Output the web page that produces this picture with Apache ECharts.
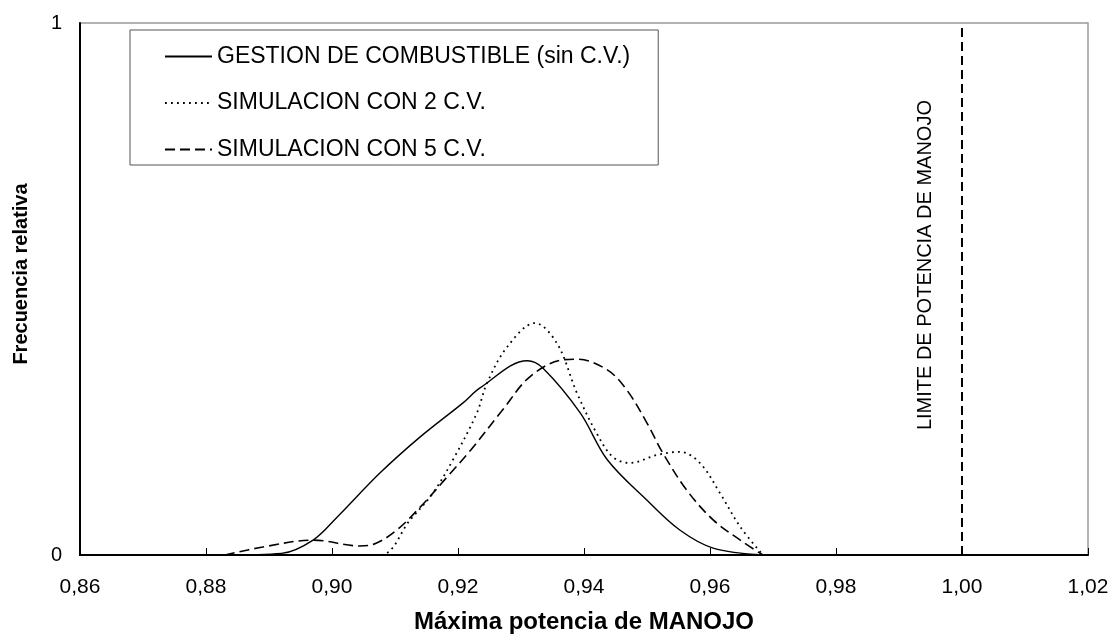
<!DOCTYPE html>
<html>
<head>
<meta charset="utf-8">
<script src="https://cdn.jsdelivr.net/npm/echarts@6/dist/echarts.min.js"></script>
<style>
  html, body { margin: 0; padding: 0; background: #fff; }
  #chart { width: 1112px; height: 635px; }
</style>
</head>
<body>
<div id="chart"></div>
<script>
// curve points: [potencia, frecuencia relativa]
const gestion = [
  [0.883, 0], [0.892, 0.003], [0.897, 0.028], [0.9008, 0.071], [0.9076, 0.154],
  [0.914, 0.222], [0.9208, 0.286], [0.9235, 0.314], [0.931, 0.365], [0.9335, 0.351],
  [0.9394, 0.267], [0.9437, 0.179], [0.950, 0.103], [0.9552, 0.047], [0.9605, 0.013],
  [0.9684, 0]
];
const sim2cv = [
  [0.885, 0], [0.9076, 0], [0.9124, 0.066], [0.916, 0.116], [0.9192, 0.179],
  [0.923, 0.267], [0.9246, 0.323], [0.9278, 0.391], [0.9322, 0.436], [0.9357, 0.398],
  [0.9389, 0.304], [0.942, 0.229], [0.9446, 0.184], [0.9473, 0.173], [0.9516, 0.188],
  [0.9552, 0.194], [0.9584, 0.173], [0.9616, 0.116], [0.9648, 0.053], [0.9684, 0]
];
const sim5cv = [
  [0.883, 0], [0.889, 0.015], [0.897, 0.028], [0.9044, 0.017], [0.907, 0.022],
  [0.9103, 0.047], [0.914, 0.090], [0.9183, 0.147], [0.922, 0.197], [0.9271, 0.273],
  [0.9314, 0.335], [0.9367, 0.367], [0.9389, 0.368], [0.9437, 0.348], [0.9468, 0.310],
  [0.950, 0.248], [0.9525, 0.192], [0.9563, 0.122], [0.9605, 0.066], [0.9648, 0.028],
  [0.9684, 0]
];
const limite = [[1.0, 0], [1.0, 1]];
const limiteBase = [[0.982, 0], [1.006, 0]];
const names = [
  'GESTION DE COMBUSTIBLE (sin C.V.)',
  'SIMULACION CON 2 C.V.',
  'SIMULACION CON 5 C.V.'
];

const font = 'Arial, "Liberation Sans", sans-serif';
const chart = echarts.init(document.getElementById('chart'));

const option = {
  animation: false,
  backgroundColor: '#fff',
  grid: {
    left: 80, right: 24, top: 23, bottom: 80,
    outerBoundsMode: 'none',
    show: true, borderColor: '#999', borderWidth: 1.5
  },
  legend: {
    orient: 'vertical',
    left: 130, top: 30,
    padding: [15, 28, 4, 34],
    itemWidth: 47, itemHeight: 14, itemGap: 23.5,
    borderColor: '#555', borderWidth: 1,
    backgroundColor: '#fff',
    data: names,
    itemStyle: { opacity: 0 },
    textStyle: { fontFamily: font, fontSize: 23, lineHeight: 22, color: '#000' }
  },
  xAxis: {
    type: 'value', min: 0.86, max: 1.02, interval: 0.02,
    name: 'Máxima potencia de MANOJO', nameLocation: 'middle', nameGap: 55,
    nameTextStyle: { fontFamily: font, fontSize: 24, fontWeight: 'bold', color: '#000' },
    axisLine: { lineStyle: { color: '#000', width: 2 } },
    axisTick: { inside: true, length: 7, lineStyle: { color: '#000' } },
    axisLabel: {
      fontFamily: font, fontSize: 21, color: '#000', margin: 22,
      formatter: v => v.toFixed(2).replace('.', ',')
    },
    splitLine: { show: false }
  },
  yAxis: {
    type: 'value', min: 0, max: 1, interval: 1,
    name: 'Frecuencia relativa', nameLocation: 'middle', nameGap: 49,
    nameTextStyle: {
      fontFamily: font, fontSize: 20, fontWeight: 'bold', color: '#000',
      padding: [0, 0, 0, 30]
    },
    axisLine: { show: true, lineStyle: { color: '#000', width: 2 } },
    axisTick: { show: false },
    axisLabel: { fontFamily: font, fontSize: 20, color: '#000', margin: 18 },
    splitLine: { show: false }
  },
  series: [
    {
      name: names[0], type: 'line', data: gestion, smooth: 0.35, symbol: 'none',
      lineStyle: { color: '#000', width: 1.4, type: 'solid' }, itemStyle: { color: '#000' }
    },
    {
      name: names[1], type: 'line', data: sim2cv, smooth: 0.35, symbol: 'none',
      lineStyle: { color: '#000', width: 1.8, type: [1.8, 4.2] }, itemStyle: { color: '#000' }
    },
    {
      name: names[2], type: 'line', data: sim5cv, smooth: 0.35, symbol: 'none',
      lineStyle: { color: '#000', width: 1.6, type: [10, 5] }, itemStyle: { color: '#000' }
    },
    {
      name: 'limite', type: 'line', data: limite, symbol: 'none',
      lineStyle: { color: '#000', width: 2, type: [9, 5] }
    },
    {
      name: 'limiteBase', type: 'line', data: limiteBase, symbol: 'none',
      lineStyle: { color: '#000', width: 1.5, type: [9, 2] }
    }
  ]
};
chart.setOption(option);

// rotated label next to the limit line
const p = chart.convertToPixel({ gridIndex: 0 }, [1.0, 0.545]);
chart.setOption({
  graphic: [{
    type: 'text',
    x: p[0] - 37, y: p[1],
    rotation: Math.PI / 2,
    style: {
      text: 'LIMITE DE POTENCIA DE MANOJO',
      font: '20px ' + font,
      fill: '#000',
      align: 'center', verticalAlign: 'middle'
    }
  }]
});
</script>
</body>
</html>
